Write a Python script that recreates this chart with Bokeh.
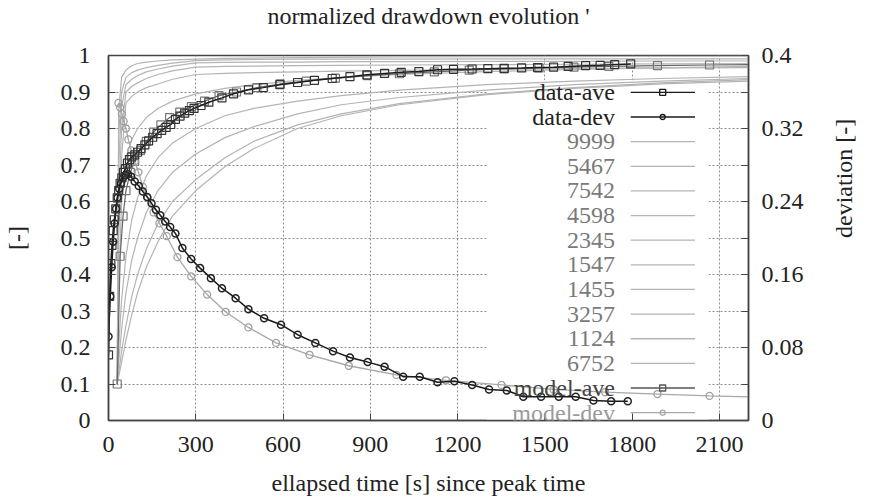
import math
from bokeh.plotting import figure
from bokeh.models import Range1d, LinearAxis, FixedTicker, PrintfTickFormatter, Label, Title
from bokeh.embed import file_html
from bokeh.resources import INLINE

# ---------------- data ----------------
title_text = "normalized drawdown evolution '"
x_ticks = [0, 300, 600, 900, 1200, 1500, 1800, 2100]
y_ticks = [0, 0.1, 0.2, 0.3, 0.4, 0.5, 0.6, 0.7, 0.8, 0.9, 1.0]
dev_ticks = [0, 0.08, 0.16, 0.24, 0.32, 0.4]

data_ave_t = [0, 4, 8, 12, 16, 20, 25, 30, 35, 40, 46, 52, 58, 65, 72, 80, 90, 100, 112, 125,
              138, 152, 167, 183, 198, 214, 230, 246, 262, 278, 294, 318, 345, 390, 430, 481,
              532, 589, 650, 708, 769, 830, 888, 949, 1006, 1067, 1131, 1186, 1250, 1304, 1360,
              1420, 1475, 1530, 1580, 1640, 1690, 1740, 1795]
data_ave_v = [0.18, 0.34, 0.43, 0.48, 0.52, 0.55, 0.58, 0.61, 0.63, 0.65, 0.665, 0.68, 0.69,
              0.705, 0.715, 0.722, 0.728, 0.735, 0.745, 0.755, 0.766, 0.776, 0.786, 0.795, 0.803,
              0.811, 0.825, 0.834, 0.842, 0.849, 0.855, 0.863, 0.872, 0.884, 0.895, 0.906, 0.912,
              0.92, 0.926, 0.932, 0.937, 0.942, 0.947, 0.951, 0.954, 0.956, 0.961, 0.962, 0.963,
              0.964, 0.965, 0.966, 0.967, 0.968, 0.970, 0.972, 0.973, 0.975, 0.977]

data_dev_t = [0, 6, 11, 16, 21, 26, 31, 37, 43, 50, 58, 67, 78, 90, 104, 118, 133, 148, 163, 178,
              195, 212, 230, 254, 284, 315, 352, 390, 437, 481, 535, 593, 650, 711, 772, 830, 891,
              949, 1013, 1070, 1131, 1189, 1250, 1308, 1369, 1426, 1487, 1548, 1606, 1667, 1728, 1785]
data_dev_v = [0.092, 0.136, 0.168, 0.196, 0.216, 0.232, 0.244, 0.254, 0.26, 0.266, 0.269, 0.27,
              0.267, 0.262, 0.257, 0.251, 0.245, 0.238, 0.231, 0.225, 0.218, 0.212, 0.205, 0.189,
              0.177, 0.167, 0.156, 0.145, 0.134, 0.122, 0.112, 0.105, 0.094, 0.085, 0.076, 0.069,
              0.064, 0.059, 0.048, 0.048, 0.042, 0.043, 0.039, 0.034, 0.033, 0.026, 0.026, 0.026,
              0.026, 0.022, 0.021, 0.021]

model_t = [30, 35, 45, 60, 80, 100, 130, 170, 220, 300, 400, 500, 650, 800, 1000, 1300, 1600, 1900, 2200]
model_names = ["9999", "5467", "7542", "4598", "2345", "1547", "1455", "3257", "1124", "6752"]
model_9999 = [0.10, 0.85, 0.94, 0.96, 0.972, 0.978, 0.982, 0.985, 0.988, 0.99, 0.992, 0.993, 0.994, 0.995, 0.996, 0.997, 0.997, 0.998, 0.998]
model_5467 = [0.10, 0.78, 0.90, 0.94, 0.953, 0.96, 0.967, 0.973, 0.979, 0.986, 0.988, 0.989, 0.99, 0.99, 0.99, 0.991, 0.991, 0.991, 0.991]
model_7542 = [0.10, 0.70, 0.86, 0.92, 0.935, 0.945, 0.955, 0.963, 0.971, 0.98, 0.981, 0.982, 0.982, 0.983, 0.983, 0.984, 0.984, 0.985, 0.985]
model_4598 = [0.10, 0.60, 0.80, 0.90, 0.915, 0.925, 0.937, 0.948, 0.958, 0.968, 0.970, 0.971, 0.972, 0.973, 0.974, 0.975, 0.976, 0.977, 0.978]
model_2345 = [0.10, 0.50, 0.72, 0.87, 0.888, 0.90, 0.912, 0.922, 0.935, 0.948, 0.951, 0.953, 0.955, 0.957, 0.959, 0.962, 0.964, 0.966, 0.967]
model_1547 = [0.10, 0.35, 0.6, 0.72, 0.77, 0.8, 0.83, 0.855, 0.875, 0.895, 0.91, 0.92, 0.932, 0.94, 0.948, 0.956, 0.962, 0.966, 0.97]
model_1455 = [0.10, 0.2, 0.33, 0.45, 0.55, 0.61, 0.67, 0.72, 0.76, 0.8, 0.835, 0.855, 0.875, 0.89, 0.905, 0.92, 0.93, 0.937, 0.942]
model_3257 = [0.10, 0.16, 0.25, 0.35, 0.44, 0.5, 0.57, 0.63, 0.68, 0.73, 0.775, 0.805, 0.84, 0.865, 0.885, 0.905, 0.92, 0.93, 0.937]
model_1124 = [0.10, 0.13, 0.19, 0.26, 0.34, 0.4, 0.47, 0.54, 0.6, 0.66, 0.72, 0.765, 0.81, 0.84, 0.868, 0.895, 0.912, 0.925, 0.934]
model_6752 = [0.10, 0.12, 0.16, 0.22, 0.29, 0.35, 0.42, 0.49, 0.56, 0.63, 0.695, 0.745, 0.8, 0.835, 0.865, 0.893, 0.91, 0.922, 0.93]
model_curves = [model_9999, model_5467, model_7542, model_4598, model_2345,
                model_1547, model_1455, model_3257, model_1124, model_6752]

model_ave_t = [30, 40, 50, 60, 75, 90, 110, 130, 155, 180, 210, 245, 285, 330, 380, 440, 510, 590,
               680, 780, 890, 1000, 1120, 1240, 1360, 1480, 1600, 1720, 1887, 2066, 2200]
model_ave_v = [0.10, 0.45, 0.56, 0.63, 0.68, 0.71, 0.74, 0.765, 0.79, 0.81, 0.83, 0.845, 0.86,
               0.875, 0.89, 0.9, 0.912, 0.922, 0.93, 0.938, 0.945, 0.95, 0.955, 0.96, 0.963,
               0.966, 0.968, 0.97, 0.972, 0.974, 0.975]

model_dev_t = [34, 40, 46, 52, 60, 68, 78, 90, 103, 118, 135, 155, 175, 200, 237, 284, 339, 403,
               481, 576, 691, 826, 990, 1160, 1351, 1530, 1707, 1887, 2066, 2200]
model_dev_v = [0.348, 0.343, 0.336, 0.328, 0.32, 0.308, 0.296, 0.284, 0.272, 0.256, 0.244, 0.228,
               0.216, 0.202, 0.179, 0.158, 0.138, 0.119, 0.102, 0.085, 0.072, 0.06, 0.05, 0.044,
               0.039, 0.034, 0.031, 0.029, 0.027, 0.026]

# ---------------- layout / style ----------------
FONT = "Liberation Serif"
TXT = "#222222"
GRAY = "#b4b4b4"

W, H = 872, 498
p = figure(width=W, height=H, output_backend="svg", toolbar_location=None,
           x_range=Range1d(0, 2200), y_range=Range1d(0, 1),
           min_border_left=103, min_border_right=W - 752, min_border_top=55,
           min_border_bottom=H - 421,
           background_fill_color="white", border_fill_color="white")
p.extra_y_ranges = {"dev": Range1d(0, 0.4)}

# spacer panel next to the frame, then the real title above it
p.add_layout(Title(text=" ", text_font_size="2px", standoff=23), "above")
p.add_layout(Title(text=title_text, align="center", text_font=FONT, text_font_size="24px",
                   text_font_style="normal", text_color=TXT, standoff=0), "above")

p.outline_line_color = "#444444"
p.outline_line_width = 1.5

xa = p.xaxis[0]
xa.ticker = FixedTicker(ticks=x_ticks)
xa.axis_label = "ellapsed time [s] since peak time"
ya = p.yaxis[0]
ya.ticker = FixedTicker(ticks=y_ticks)
ya.formatter = PrintfTickFormatter(format="%g")
ya.axis_label = "[-]"

dev_minor = [(a + b) / 2 for a, b in zip(dev_ticks[:-1], dev_ticks[1:])]
ra = LinearAxis(y_range_name="dev", ticker=FixedTicker(ticks=dev_ticks, minor_ticks=dev_minor),
                formatter=PrintfTickFormatter(format="%g"), axis_label="deviation [-]")
ra.axis_label_orientation = math.pi / 2
p.add_layout(ra, "right")

for ax, std, lstd in ((xa, 16, 15), (ya, 18, 28), (ra, 13, 37)):
    ax.major_tick_in = 7
    ax.major_tick_out = 0
    ax.minor_tick_in = 7
    ax.minor_tick_out = 0
    ax.axis_line_color = "#444444"
    ax.axis_line_width = 1.5
    ax.major_tick_line_color = "#444444"
    ax.minor_tick_line_color = "#444444"
    ax.major_label_text_font = FONT
    ax.major_label_text_font_size = "24px"
    ax.major_label_text_color = TXT
    ax.major_label_standoff = std
    ax.axis_label_text_font = FONT
    ax.axis_label_text_font_size = "24px"
    ax.axis_label_text_font_style = "normal"
    ax.axis_label_text_color = TXT
    ax.axis_label_standoff = lstd

for g in (p.xgrid[0], p.ygrid[0]):
    g.grid_line_color = "#8c8c8c"
    g.grid_line_dash = "2 2"
    g.grid_line_width = 1
p.xgrid[0].ticker = FixedTicker(ticks=x_ticks)
p.ygrid[0].ticker = FixedTicker(ticks=y_ticks)

# legend box (hides the grid behind the key)
LEG_BOX_L, LEG_BOX_R, LEG_BOX_T = 1300, 2063, 0.932
p.quad(left=[LEG_BOX_L], right=[LEG_BOX_R], bottom=[0], top=[LEG_BOX_T],
       fill_color="white", line_color=None)

# model curves
for vals in model_curves:
    p.line(model_t, vals, line_color=GRAY, line_width=1.2)

# model-ave
p.line(model_ave_t, model_ave_v, line_color="#666666", line_width=1.2)
p.scatter(model_ave_t[:-1], model_ave_v[:-1], marker="square", size=8, fill_color=None,
          line_color="#777777", line_width=1.2)

# model-dev
p.line(model_dev_t, model_dev_v, y_range_name="dev", line_color="#a8a8a8", line_width=1.3)
p.scatter(model_dev_t[:-1], model_dev_v[:-1], y_range_name="dev", marker="circle", size=7,
          fill_color=None, line_color="#a0a0a0", line_width=1.3)

# data-dev
p.line(data_dev_t, data_dev_v, y_range_name="dev", line_color="#1a1a1a", line_width=1.5)
p.scatter(data_dev_t, data_dev_v, y_range_name="dev", marker="circle", size=7,
          fill_color=None, line_color="#222222", line_width=1.5)

# data-ave
p.line(data_ave_t, data_ave_v, line_color="#1a1a1a", line_width=1.5)
p.scatter(data_ave_t, data_ave_v, marker="square", size=8, fill_color=None,
          line_color="#333333", line_width=1.2)

# ---------------- key (gnuplot style: text then sample) ----------------
LEG_TEXT_X = 1741
LEG_LINE_X0, LEG_LINE_X1, LEG_MARK_X = 1795, 2016, 1905
LEG_Y0, LEG_DY = 0.899, 0.0675

entries = [("data-ave", "#222222", "#1a1a1a", "square", 6)]
entries.append(("data-dev", "#222222", "#1a1a1a", "circle", 5))
for nm in model_names:
    entries.append((nm, "#7a7a7a", GRAY, None, 0))
entries.append(("model-ave", "#444444", "#555555", "square", 6))
entries.append(("model-dev", "#9a9a9a", "#a8a8a8", "circle", 5))

for i, (nm, tcol, lcol, mk, ms) in enumerate(entries):
    yy = LEG_Y0 - i * LEG_DY
    p.add_layout(Label(x=LEG_TEXT_X, y=yy, text=nm, text_align="right", text_baseline="middle",
                       text_font=FONT, text_font_size="24px", text_color=tcol))
    p.segment(x0=[LEG_LINE_X0], y0=[yy], x1=[LEG_LINE_X1], y1=[yy], line_color=lcol,
              line_width=1.3)
    if mk:
        p.scatter([LEG_MARK_X], [yy], marker=mk, size=ms, fill_color=None, line_color=lcol,
                  line_width=1.3)

open("out.html", "w").write(file_html(p, INLINE))
